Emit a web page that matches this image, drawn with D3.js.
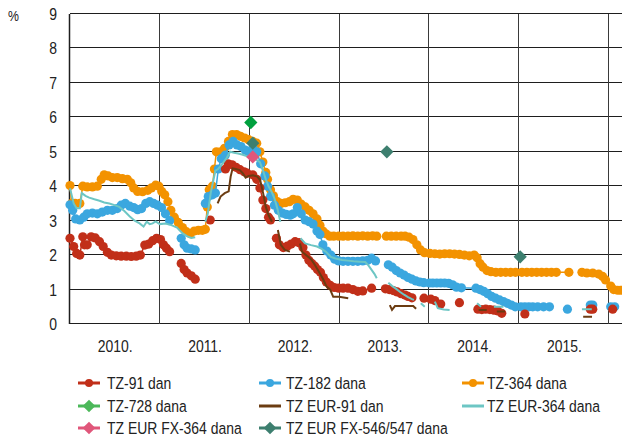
<!DOCTYPE html>
<html lang="en">
<head>
<meta charset="utf-8">
<title>Kamatne stope na trezorske zapise</title>
<script src="https://d3js.org/d3.v7.min.js"></script>
<style type="text/css">
  body { margin: 0; background: #fff; }
  svg text { font-family: 'Liberation Sans', Arial, sans-serif; fill: #222; }
</style>
</head>
<body>
<div id="chart"></div>
<script>

/* Data */
/* ==== */

// [date, %] pairs, null marks a break in the series
var tz91 = [
  ["2010-01-01",2.49],["2010-01-16",2.25],["2010-01-28",2.05],["2010-02-10",2.0],["2010-02-22",2.53],["2010-03-01",2.3],["2010-03-12",2.3],["2010-03-28",2.53],["2010-04-14",2.5],["2010-05-01",2.39],["2010-05-16",2.25],["2010-06-02",2.08],["2010-06-18",2.0],["2010-07-08",1.98],["2010-07-28",1.97],["2010-08-18",1.97],["2010-09-07",1.96],["2010-09-27",1.97],["2010-10-14",2.0],["2010-11-01",2.29],["2010-11-17",2.32],["2010-12-03",2.42],["2010-12-19",2.49],
  ["2011-01-04",2.45],["2011-01-16",2.3],["2011-01-28",2.2],["2011-02-10",2.1],null,["2011-03-29",1.76],["2011-04-10",1.58],["2011-04-22",1.48],["2011-05-09",1.4],["2011-05-25",1.3],null,["2011-07-25",3.02],null,
  ["2011-09-25",4.5],["2011-10-06",4.65],["2011-10-22",4.62],["2011-11-07",4.55],["2011-11-23",4.48],["2011-12-10",4.42],["2011-12-22",4.38],
  ["2012-01-14",4.33],["2012-01-30",4.2],["2012-02-12",3.95],["2012-02-24",3.6],["2012-03-07",3.35],["2012-03-18",3.1],["2012-03-26",3.02],null,
  ["2012-04-19",2.49],["2012-05-01",2.3],["2012-05-17",2.22],["2012-06-02",2.26],["2012-06-18",2.32],["2012-07-04",2.39],["2012-07-20",2.36],["2012-08-05",2.22],["2012-08-17",2.0],["2012-08-29",1.85],["2012-09-10",1.76],["2012-09-22",1.68],["2012-10-03",1.58],["2012-10-15",1.5],["2012-10-27",1.35],["2012-11-08",1.22],["2012-11-24",1.12],["2012-12-10",1.06],["2012-12-28",1.04],
  ["2013-01-15",1.04],["2013-02-04",1.04],["2013-02-24",1.0],["2013-03-16",0.95],["2013-04-05",0.96],["2013-05-11",1.04],null,
  ["2013-07-06",1.02],["2013-07-22",1.0],["2013-08-07",0.97],["2013-08-23",0.93],["2013-09-08",0.88],["2013-09-24",0.84],["2013-10-06",0.8],["2013-10-22",0.76],null,
  ["2013-12-10",0.75],["2014-01-07",0.72],["2014-01-23",0.68],["2014-02-16",0.58],null,["2014-05-03",0.62],null,
  ["2014-07-17",0.43],["2014-08-02",0.42],["2014-08-18",0.43],["2014-09-04",0.42],["2014-09-20",0.4],["2014-10-06",0.38],["2014-10-22",0.31],null,
  ["2015-01-24",0.29],null,["2015-10-17",0.43],["2015-10-27",0.43],null,["2016-01-16",0.43]
];

var tz182 = [
  ["2010-01-01",3.46],["2010-01-12",3.3],["2010-01-24",3.05],["2010-02-10",3.02],["2010-02-26",3.1],["2010-03-12",3.2],["2010-04-02",3.22],["2010-04-22",3.2],["2010-05-12",3.25],["2010-06-02",3.3],["2010-06-22",3.3],["2010-07-12",3.35],["2010-07-28",3.45],["2010-08-14",3.5],["2010-09-01",3.42],["2010-09-17",3.38],["2010-10-03",3.32],["2010-10-19",3.35],["2010-11-05",3.5],["2010-11-21",3.55],["2010-12-07",3.5],["2010-12-23",3.45],
  ["2011-01-08",3.38],["2011-01-24",3.2],["2011-02-10",3.0],null,["2011-03-29",2.49],["2011-04-10",2.3],["2011-04-22",2.2],["2011-05-09",2.18],["2011-05-25",2.15],null,
  ["2011-07-05",3.5],["2011-07-17",3.7],["2011-08-03",3.75],["2011-08-15",3.8],["2011-08-27",4.5],["2011-09-08",4.8],["2011-09-24",4.9],["2011-10-10",5.2],["2011-10-26",5.3],["2011-11-11",5.2],["2011-11-27",5.15],["2011-12-14",5.05],["2011-12-26",5.0],
  ["2012-01-14",5.1],["2012-01-30",5.0],["2012-02-15",4.65],["2012-03-03",4.3],["2012-03-14",4.0],["2012-03-26",3.7],["2012-04-11",3.45],["2012-04-27",3.3],["2012-05-13",3.22],["2012-05-29",3.18],["2012-06-14",3.16],["2012-06-26",3.2],["2012-07-13",3.38],["2012-07-29",3.2],["2012-08-14",3.02],["2012-08-30",2.97],["2012-09-15",2.9],["2012-10-01",2.7],["2012-10-13",2.6],["2012-10-25",2.3],["2012-11-10",2.12],["2012-11-26",2.0],["2012-12-12",1.88],["2012-12-28",1.83],
  ["2013-01-15",1.82],["2013-02-04",1.82],["2013-02-24",1.82],["2013-03-16",1.82],["2013-04-05",1.83],["2013-04-25",1.85],["2013-05-11",1.91],["2013-05-27",1.83],null,
  ["2013-07-18",1.72],["2013-08-03",1.65],["2013-08-19",1.55],["2013-09-04",1.48],["2013-09-20",1.42],["2013-10-06",1.35],["2013-10-22",1.3],["2013-11-07",1.25],["2013-11-23",1.22],["2013-12-09",1.2],
  ["2014-01-01",1.19],["2014-01-15",1.19],["2014-01-31",1.19],["2014-02-16",1.19],["2014-03-04",1.19],["2014-03-20",1.18],["2014-04-05",1.14],["2014-04-21",1.07],["2014-05-11",1.05],["2014-07-09",1.04],["2014-07-25",1.0],["2014-08-10",0.95],["2014-08-26",0.88],["2014-09-11",0.8],["2014-09-27",0.75],["2014-10-13",0.7],["2014-10-29",0.65],["2014-11-14",0.6],["2014-11-30",0.55],["2014-12-16",0.5],
  ["2015-01-08",0.5],["2015-01-24",0.5],["2015-02-09",0.5],["2015-02-25",0.5],["2015-03-17",0.5],["2015-04-10",0.5],["2015-05-04",0.5],null,["2015-07-16",0.43],null,
  ["2015-10-17",0.55],["2015-10-27",0.55],null,["2016-01-08",0.5],["2016-01-24",0.5]
];

var tz364 = [
  ["2010-01-01",4.02],["2010-01-08",3.5],["2010-01-22",3.5],["2010-02-10",3.5],["2010-02-22",4.0],["2010-03-12",3.98],["2010-04-02",3.98],["2010-04-22",4.0],["2010-05-08",4.2],["2010-05-20",4.33],["2010-06-05",4.3],["2010-06-22",4.25],["2010-07-12",4.25],["2010-08-02",4.22],["2010-08-22",4.2],["2010-09-05",4.1],["2010-09-17",3.95],["2010-10-03",3.85],["2010-10-23",3.84],["2010-11-13",3.88],["2010-11-28",3.95],["2010-12-15",4.03],["2010-12-28",4.0],
  ["2011-01-09",3.85],["2011-01-21",3.75],["2011-02-03",3.55],["2011-02-15",3.3],["2011-03-01",3.1],["2011-03-17",2.95],["2011-04-03",2.8],["2011-04-19",2.68],["2011-05-05",2.62],["2011-05-21",2.7],["2011-06-07",2.72],["2011-06-23",2.72],["2011-07-05",2.75],["2011-07-13",3.4],["2011-07-21",3.9],["2011-08-03",4.0],["2011-08-11",4.5],["2011-08-19",5.0],["2011-09-05",5.0],["2011-09-21",5.1],["2011-10-07",5.3],["2011-10-23",5.5],["2011-11-09",5.5],["2011-11-25",5.45],["2011-12-12",5.4],["2011-12-28",5.35],
  ["2012-01-14",5.3],["2012-01-30",5.25],["2012-02-12",5.0],["2012-02-24",4.7],["2012-03-07",4.4],["2012-03-14",4.2],["2012-03-26",3.9],["2012-04-07",3.72],["2012-04-23",3.55],["2012-05-08",3.5],["2012-05-25",3.52],["2012-06-11",3.55],["2012-06-26",3.62],["2012-07-13",3.6],["2012-07-29",3.48],["2012-08-14",3.4],["2012-08-30",3.3],["2012-09-15",3.2],["2012-10-01",3.05],["2012-10-13",2.87],["2012-10-25",2.7],["2012-11-06",2.62],["2012-11-22",2.55],["2012-12-08",2.55],["2012-12-28",2.55],
  ["2013-01-15",2.55],["2013-02-04",2.55],["2013-02-24",2.56],["2013-03-16",2.55],["2013-04-05",2.56],["2013-04-25",2.55],["2013-05-15",2.56],["2013-06-01",2.55],null,
  ["2013-07-10",2.55],["2013-07-30",2.55],["2013-08-19",2.55],["2013-09-08",2.55],["2013-09-24",2.55],["2013-10-10",2.52],["2013-10-26",2.45],["2013-11-11",2.3],["2013-11-26",2.15],["2013-12-12",2.07],
  ["2014-01-03",2.05],["2014-01-23",2.04],["2014-02-12",2.03],["2014-03-04",2.04],["2014-03-24",2.04],["2014-04-13",2.03],["2014-05-03",2.02],["2014-05-23",2.0],["2014-06-12",1.98],["2014-07-02",2.0],["2014-07-14",1.92],["2014-07-26",1.75],["2014-08-07",1.65],["2014-08-23",1.55],["2014-09-08",1.52],["2014-09-28",1.5],["2014-10-18",1.5],["2014-11-07",1.5],["2014-11-27",1.5],["2014-12-17",1.5],
  ["2015-01-12",1.5],["2015-02-01",1.5],["2015-02-21",1.5],["2015-03-13",1.5],["2015-04-02",1.5],["2015-04-22",1.5],["2015-05-12",1.5],["2015-06-01",1.5],["2015-07-22",1.5],null,
  ["2015-09-13",1.5],["2015-10-03",1.48],["2015-10-27",1.48],["2015-11-20",1.45],["2015-12-06",1.38],["2015-12-18",1.28],["2016-01-08",1.1],["2016-01-20",1.0],["2016-02-05",0.98],["2016-02-17",0.98]
];

var tz728 = [["2012-01-06",5.85]];

var tzEur91 = [
  ["2011-08-24",3.5],["2011-09-05",3.7],["2011-09-22",3.8],["2011-10-08",3.85],["2011-10-16",4.28],["2011-10-24",4.52],["2011-11-06",4.5],["2011-11-22",4.47],["2011-12-04",4.38],["2011-12-16",4.25],["2011-12-28",4.3],["2012-01-15",4.32],["2012-02-01",4.28],["2012-02-13",4.18],["2012-02-25",3.8],["2012-03-07",3.4],["2012-03-19",3.15],["2012-04-01",2.97],null,
  ["2012-04-25",2.73],["2012-05-07",2.3],["2012-05-23",2.15],["2012-06-13",2.1],null,
  ["2012-07-24",2.34],["2012-08-01",2.1],["2012-09-07",1.88],["2012-09-24",1.7],["2012-10-10",1.5],["2012-10-26",1.3],["2012-11-08",1.1],["2012-11-24",0.99],["2012-12-06",0.79],["2012-12-30",0.79],["2013-02-05",0.75],null,
  ["2013-07-24",0.55],["2013-08-02",0.41],["2013-08-14",0.52],["2013-09-24",0.52],["2013-10-27",0.52],["2013-11-08",0.44],null,
  ["2014-07-20",0.41],["2014-08-22",0.41],null,["2014-10-02",0.36],["2014-11-04",0.36],null,["2015-09-18",0.21],["2015-10-24",0.21]
];

var tzEur364 = [
  ["2010-01-01",3.94],["2010-01-16",3.5],["2010-01-28",3.36],["2010-02-10",3.36],["2010-02-18",3.8],["2010-03-05",3.72],["2010-03-20",3.67],["2010-04-10",3.62],["2010-05-01",3.58],["2010-05-20",3.53],["2010-06-10",3.5],["2010-07-01",3.45],["2010-07-20",3.4],["2010-08-10",3.28],["2010-09-01",3.12],["2010-09-21",3.0],["2010-10-11",2.92],["2010-10-27",2.83],["2010-11-09",2.97],["2010-11-21",2.9],["2010-12-03",2.92],["2010-12-15",2.98],["2011-01-01",2.9],["2011-01-24",2.92],["2011-02-17",2.87],["2011-03-12",2.8],["2011-04-04",2.63],["2011-04-21",2.55],["2011-05-09",2.5],["2011-05-25",2.52],null,
  ["2011-07-05",2.97],["2011-07-15",3.2],["2011-07-27",3.8],["2011-08-15",4.45],["2011-08-26",4.5],["2011-09-12",4.65],["2011-09-28",4.8],["2011-10-14",5.0],["2011-10-30",4.97],["2011-11-15",4.95],["2011-12-01",4.92],["2011-12-17",4.88],["2012-01-10",4.82],["2012-01-26",4.78],["2012-02-12",4.7],["2012-02-24",4.47],["2012-03-07",4.2],["2012-03-18",4.0],["2012-03-30",3.85],["2012-04-11",3.65],["2012-04-23",3.35],["2012-05-05",2.97],null,
  ["2012-07-26",2.49],["2012-08-14",2.34],["2012-09-07",2.29],["2012-10-01",2.25],["2012-10-20",2.18],["2012-11-06",2.1],["2012-11-26",1.95],["2012-12-15",1.9],["2013-01-11",1.86],["2013-02-04",1.84],["2013-02-27",1.82],["2013-03-23",1.81],["2013-04-15",1.8],["2013-04-28",1.7],["2013-05-11",1.57],["2013-05-23",1.45],["2013-06-01",1.33],null,
  ["2013-07-18",1.2],["2013-08-03",1.1],["2013-08-19",1.02],["2013-09-04",0.93],["2013-09-20",0.85],["2013-10-06",0.78],["2013-10-22",0.72],["2013-10-30",0.7],null,
  ["2013-11-27",0.6],["2013-12-13",0.5],null,["2014-01-23",0.65],["2014-02-04",0.46],["2014-02-28",0.42],["2014-03-24",0.41],null,
  ["2014-07-14",0.6],["2014-07-30",0.5],null,["2014-09-20",0.5],["2014-10-29",0.5],null,["2015-09-13",0.43],["2015-10-23",0.43]
];

var tzEurFx364 = [["2012-01-14",4.85]];

var tzEurFx546 = [["2012-01-14",5.25],["2013-07-12",5.0],["2015-01-05",1.95]];

var yTicks = [0, 1, 2, 3, 4, 5, 6, 7, 8, 9];
var yearLabels = ["2010", "2011", "2012", "2013", "2014", "2015"];


/* Set up */
/* ====== */

var width = 622,
    height = 441,
    squeeze = 0.82; // the original uses a narrow face

var parseDate = d3.timeParse('%Y-%m-%d');

function prep(arr) {
  return arr.map(function(d) {
    return d ? { date: parseDate(d[0]), value: d[1] } : null;
  });
}

// squeeze axis text in place
function condense(sel) {
  sel.each(function() {
    var len = this.getComputedTextLength();
    d3.select(this)
        .attr('textLength', len * squeeze)
        .attr('lengthAdjust', 'spacingAndGlyphs');
  });
}

var series = [
  { name: 'TZ-364 dana', data: prep(tz364), color: '#F39200', kind: 'dot' },
  { name: 'TZ-182 dana', data: prep(tz182), color: '#3BA7DF', kind: 'dot' },
  { name: 'TZ-91 dan', data: prep(tz91), color: '#C12F19', kind: 'dot' },
  { name: 'TZ EUR-91 dan', data: prep(tzEur91), color: '#6B3C12', kind: 'line' },
  { name: 'TZ EUR-364 dana', data: prep(tzEur364), color: '#6DC6C4', kind: 'line' },
  { name: 'TZ-728 dana', data: prep(tz728), color: '#00A03E', kind: 'diamond' },
  { name: 'TZ EUR FX-546/547 dana', data: prep(tzEurFx546), color: '#3D7F6F', kind: 'diamond' },
  { name: 'TZ EUR FX-364 dana', data: prep(tzEurFx364), color: '#E0567A', kind: 'diamond' }
];

var x = d3.scaleTime()
    .domain([new Date(2010, 0, 1), new Date(2016, 0, 1)])
    .range([70, 609]);

var y = d3.scaleLinear()
    .domain([0, 9])
    .range([324, 14]);

var svg = d3.select('#chart').append('svg')
    .attr('width', width)
    .attr('height', height);

function crisp(v) { return Math.round(v) + 0.5; }


/* Grid */
/* ==== */

svg.append('g').selectAll('line')
  .data(yTicks)
  .join('line')
    .attr('x1', 70)
    .attr('x2', width)
    .attr('y1', function(d) { return crisp(y(d)) - 1; })
    .attr('y2', function(d) { return crisp(y(d)) - 1; })
    .attr('stroke', '#1e1e1e')
    .attr('stroke-width', 1);

svg.append('g').selectAll('line')
  .data(x.ticks(d3.timeYear.every(1)))
  .join('line')
    .attr('x1', function(d) { return crisp(x(d)) - 1; })
    .attr('x2', function(d) { return crisp(x(d)) - 1; })
    .attr('y1', y(9))
    .attr('y2', y(0))
    .attr('stroke', function(d, i) { return i === 0 ? '#1e1e1e' : '#3a3a3a'; })
    .attr('stroke-width', function(d, i) { return i === 0 ? 1.5 : 1; });


/* Axes */
/* ==== */

var yAxis = d3.axisLeft(y).tickValues(yTicks).tickSize(0).tickPadding(13);

svg.append('g')
    .attr('transform', 'translate(70,0)')
    .call(yAxis)
    .call(function(g) { g.select('.domain').remove(); })
    .selectAll('text')
      .style('font-size', '17px')
      .call(condense);

var xAxis = d3.axisBottom(x)
    .tickValues(yearLabels.map(function(yr) { return new Date(+yr, 6, 2); }))
    .tickFormat(d3.timeFormat('%Y.'))
    .tickSize(0)
    .tickPadding(16);

svg.append('g')
    .attr('transform', 'translate(0,324)')
    .call(xAxis)
    .call(function(g) { g.select('.domain').remove(); })
    .selectAll('text')
      .style('font-size', '17px')
      .call(condense);

svg.append('text')
    .attr('x', 8)
    .attr('y', 21)
    .style('font-size', '15px')
    .text('%')
    .call(condense);


/* Series */
/* ====== */

var line = d3.line()
    .defined(function(d) { return d; })
    .x(function(d) { return x(d.date); })
    .y(function(d) { return y(d.value); });

var diamond = d3.symbol().type(d3.symbolSquare).size(88);

series.forEach(function(s) {

  var g = svg.append('g');

  if (s.kind !== 'diamond') {
    g.append('path')
        .datum(s.data)
        .attr('d', line)
        .attr('fill', 'none')
        .attr('stroke', s.color)
        .attr('stroke-width', s.kind === 'dot' ? 1.5 : 2);
  }

  if (s.kind === 'dot') {
    g.selectAll('circle')
      .data(s.data.filter(function(d) { return d; }))
      .join('circle')
        .attr('cx', function(d) { return x(d.date); })
        .attr('cy', function(d) { return y(d.value); })
        .attr('r', 4.6)
        .attr('fill', s.color);
  }

  if (s.kind === 'diamond') {
    g.selectAll('path')
      .data(s.data)
      .join('path')
        .attr('d', diamond)
        .attr('transform', function(d) {
          return 'translate(' + x(d.date) + ',' + y(d.value) + ') rotate(45)';
        })
        .attr('fill', s.color);
  }

});


/* Legend */
/* ====== */

var legendItems = [
  { name: 'TZ-91 dan', color: '#C12F19', kind: 'dot', col: 0, row: 0 },
  { name: 'TZ-182 dana', color: '#3BA7DF', kind: 'dot', col: 1, row: 0 },
  { name: 'TZ-364 dana', color: '#F39200', kind: 'dot', col: 2, row: 0 },
  { name: 'TZ-728 dana', color: '#4CB85A', kind: 'diamond', col: 0, row: 1 },
  { name: 'TZ EUR-91 dan', color: '#6B3C12', kind: 'line', col: 1, row: 1 },
  { name: 'TZ EUR-364 dana', color: '#6DC6C4', kind: 'line', col: 2, row: 1 },
  { name: 'TZ EUR FX-364 dana', color: '#E0567A', kind: 'diamond', col: 0, row: 2 },
  { name: 'TZ EUR FX-546/547 dana', color: '#3D7F6F', kind: 'diamond', col: 1, row: 2 }
];

var colX = [78, 259, 462],
    textX = [29, 27, 25],
    rowY = [383, 406, 428];

var legend = svg.append('g').selectAll('g')
  .data(legendItems)
  .join('g')
    .attr('transform', function(d) { return 'translate(' + colX[d.col] + ',' + rowY[d.row] + ')'; });

legend.append('line')
    .attr('x1', 0)
    .attr('x2', 22)
    .attr('stroke', function(d) { return d.color; })
    .attr('stroke-width', 3);

legend.filter(function(d) { return d.kind === 'dot'; })
  .append('circle')
    .attr('cx', 11)
    .attr('r', 4)
    .attr('fill', function(d) { return d.color; });

legend.filter(function(d) { return d.kind === 'diamond'; })
  .append('path')
    .attr('d', d3.symbol().type(d3.symbolSquare).size(80))
    .attr('transform', 'translate(11,0) rotate(45)')
    .attr('fill', function(d) { return d.color; });

legend.append('text')
    .attr('transform', function(d) { return 'translate(' + textX[d.col] + ',6) scale(' + squeeze + ',1)'; })
    .style('font-size', '17px')
    .text(function(d) { return d.name; });

</script>
</body>
</html>
